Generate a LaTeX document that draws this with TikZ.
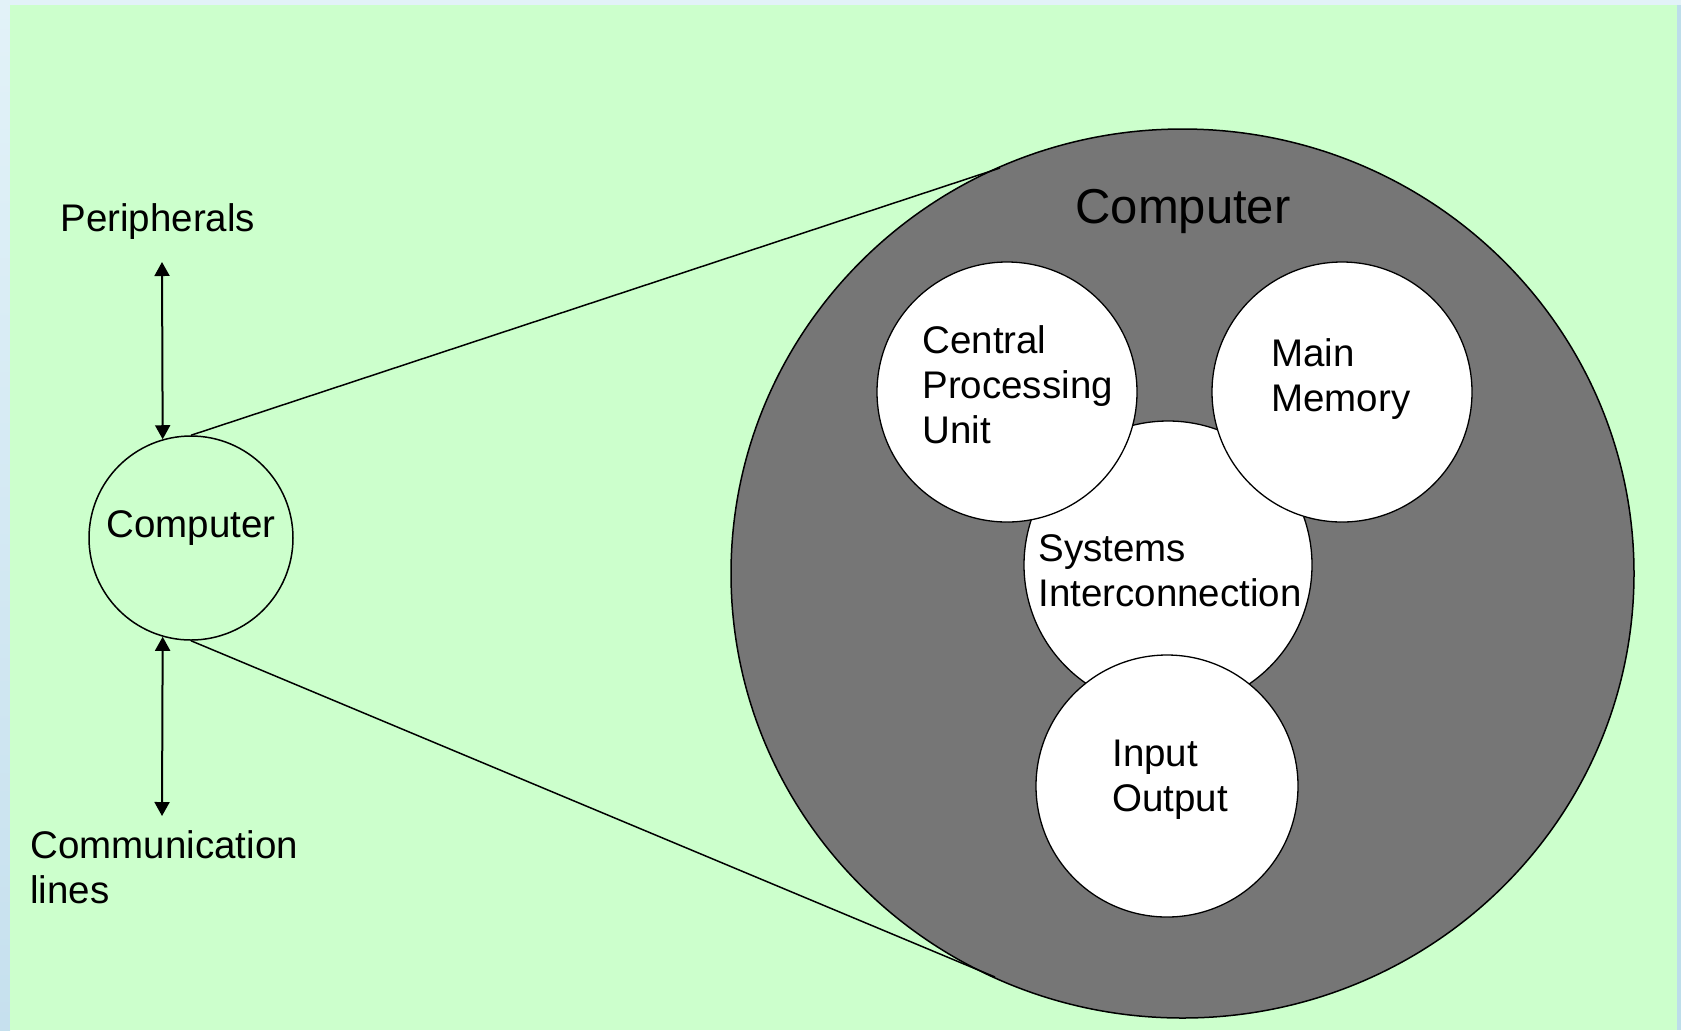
\documentclass[tikz,border=0pt]{standalone}
\usepackage{fontspec}
\setmainfont{Liberation Sans}
\usetikzlibrary{arrows.meta,shapes.geometric}
\definecolor{bggreen}{HTML}{CCFFCC}
\definecolor{edgeblue}{HTML}{E2F2F8}
\definecolor{edgeblueb}{HTML}{C6E0EE}
\definecolor{rightblue}{HTML}{BCDDEA}
\definecolor{hatch}{HTML}{767676}
\tikzset{
  txt/.style={inner sep=0pt, anchor=base west, align=left,
    font=\fontsize{19.25pt}{22.5pt}\selectfont},
  bigtxt/.style={inner sep=0pt, anchor=base west,
    font=\fontsize{24.5pt}{28pt}\selectfont},
  part/.style={circle, draw=black, line width=0.65pt, fill=white, inner sep=0pt, minimum size=#1},
  link/.style={draw=black, line width=0.75pt},
  dblarrow/.style={draw=black, line width=1pt, {Triangle[width=7.5pt,length=7pt]}-{Triangle[width=7.5pt,length=7pt]}}
}
\begin{document}
\begin{tikzpicture}[x=0.5pt,y=-0.5pt]
\useasboundingbox (0,0) rectangle (1681,1030);
% background
\fill[edgeblue] (0,0) rectangle (1681,1030);
\shade[top color=edgeblue, bottom color=edgeblueb] (0,0) rectangle (10,1030);
\fill[rightblue] (1677,5) rectangle (1681,1030);
\fill[bggreen] (10,5) rectangle (1677,1030);

% big circle
\node[ellipse, draw=black, line width=0.75pt, fill=hatch, inner sep=0pt,
      minimum width=451.5pt, minimum height=444.5pt] (big) at (1182.5,573.5) {};
\node[bigtxt] (bigl) at (1075,223) {Computer};

% inner parts
\node[part=144pt] (si) at (1168,565) {};
\node[part=130pt] (cpu) at (1007,392) {};
\node[part=130pt] (mm) at (1342,392) {};
\node[part=131pt] (io) at (1167,786) {};

% multi-line labels: anchor = baseline of the last line
\node[txt] (cpul) at (922,443) {Central\\Processing\\Unit};
\node[txt] (mml) at (1271,411) {Main\\Memory};
\node[txt] (sil) at (1038,606) {Systems\\Interconnection};
\node[txt] (iol) at (1112,811) {Input\\Output};

% small computer
\node[circle, draw=black, line width=0.75pt, inner sep=0pt, minimum size=102pt,
      text height=14pt, text depth=15pt, font=\fontsize{19.25pt}{22.5pt}\selectfont] (comp) at (191,538) {Computer};

% tangent lines
\coordinate (t1) at (1000,168);
\coordinate (t2) at (995,977);
\draw[link] (comp.north) -- (t1);
\draw[link] (comp.south) -- (t2);

% labels and arrows
\node[txt] (per) at (60,231) {Peripherals};
\node[txt] (com) at (30,903) {Communication\\lines};
\coordinate (pa) at (162,262);
\coordinate (ca) at (162,816);
\draw[dblarrow] (pa) -- (comp.106);
\draw[dblarrow] (ca) -- (comp.-106);
\end{tikzpicture}
\end{document}
